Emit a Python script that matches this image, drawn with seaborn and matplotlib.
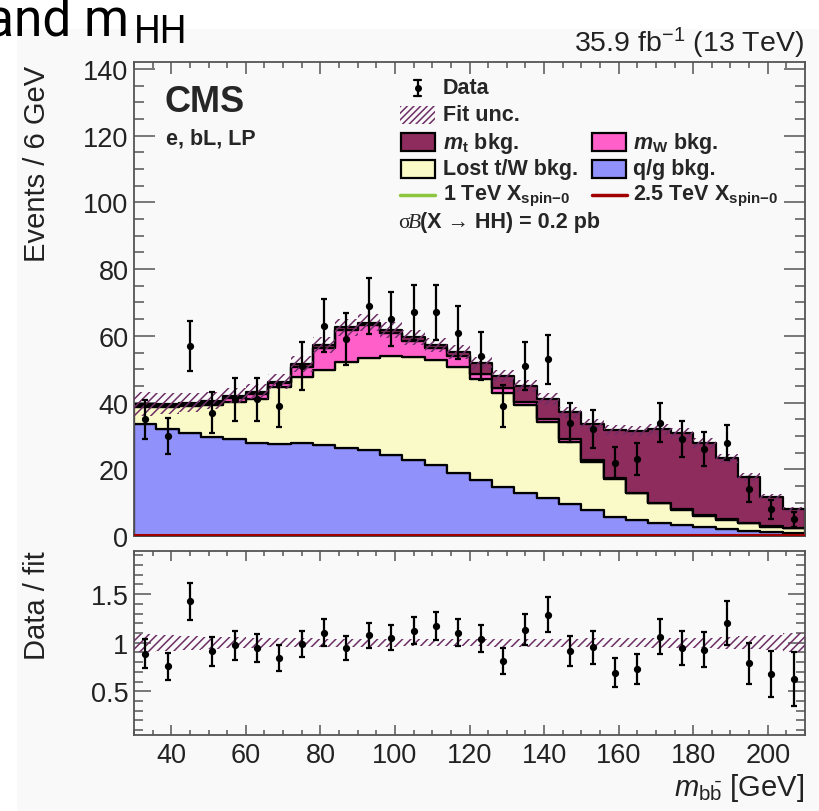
import numpy as np
import pandas as pd
import matplotlib
matplotlib.use("Agg")
import matplotlib.pyplot as plt
from matplotlib.patches import Rectangle
from matplotlib.lines import Line2D
from matplotlib.ticker import MultipleLocator
import seaborn as sns

# m_bb binning: 30 bins of 6 GeV from 30 to 210
bin_edges = np.arange(30, 211, 6)
bin_centers = (bin_edges[:-1] + bin_edges[1:]) / 2

# stacked fit components (events / bin)
qg_bkg = [33.6, 32.1, 30.8, 29.6, 29.1, 27.8, 27.5, 28.0, 27.3, 26.3,
          25.8, 24.3, 22.8, 21.3, 19.0, 16.7, 14.6, 12.8, 11.3, 9.6,
          7.8, 5.8, 4.8, 4.0, 3.3, 2.6, 2.0, 1.6, 1.3, 1.0]
lost_bkg = [5.0, 6.6, 8.1, 9.7, 11.2, 13.2, 17.3, 19.8, 22.5, 25.8,
            27.5, 29.7, 30.8, 31.5, 31.6, 30.3, 28.4, 26.5, 23.0, 18.7,
            14.5, 11.2, 8.0, 5.8, 4.5, 3.4, 2.8, 2.2, 1.5, 1.3]
mw_bkg = [0.4, 0.5, 0.5, 0.7, 1.0, 1.5, 1.0, 3.0, 6.6, 9.7,
          9.9, 7.0, 5.0, 3.5, 3.4, 1.5, 1.4, 1.0, 0.7, 0.7,
          0.4, 0.3, 0.2, 0.2, 0.2, 0.2, 0.2, 0.1, 0.1, 0.1]
mt_bkg = [0.5, 0.5, 0.6, 0.6, 0.8, 0.8, 0.5, 0.8, 0.8, 0.8,
          0.8, 0.8, 1.0, 1.0, 1.3, 3.3, 3.6, 4.7, 6.1, 8.1,
          10.9, 14.5, 18.6, 22.0, 22.8, 21.8, 18.3, 13.9, 8.9, 5.6]
fit_unc = [3.6, 3.2, 2.8, 2.5, 2.3, 2.2, 2.2, 2.3, 2.4, 2.5,
           2.5, 2.4, 2.3, 2.2, 2.1, 2.0, 1.9, 1.8, 1.7, 1.6,
           1.5, 1.5, 1.5, 1.6, 1.6, 1.5, 1.4, 1.2, 0.9, 0.8]

# signals (sigma*B = 0.2 pb), barely above zero here
sig_1tev = [0.15, 0.15, 0.15, 0.15, 0.15, 0.15, 0.15, 0.15, 0.15, 0.15,
            0.15, 0.15, 0.15, 0.15, 0.15, 0.15, 0.15, 0.15, 0.15, 0.15,
            0.15, 0.15, 0.15, 0.15, 0.15, 0.15, 0.15, 0.15, 0.15, 0.15]
sig_25tev = [0.3, 0.3, 0.3, 0.3, 0.3, 0.3, 0.3, 0.3, 0.3, 0.3,
             0.3, 0.3, 0.3, 0.3, 0.3, 0.3, 0.3, 0.3, 0.3, 0.3,
             0.3, 0.3, 0.3, 0.3, 0.3, 0.3, 0.3, 0.3, 0.3, 0.3]

# data
data = [35, 30, 57, 37, 41, 41, 39, 51, 63, 59,
        69, 65, 67, 67, 61, 54, 39, 51, 53, 34,
        32, 22, 23, 34, 29, 26, 28, 14, 8, 5]
data_err = [5.9, 5.5, 7.5, 6.1, 6.4, 6.4, 6.2, 7.1, 7.9, 7.7,
            8.3, 8.1, 8.2, 8.2, 7.8, 7.3, 6.2, 7.1, 7.3, 5.8,
            5.7, 4.7, 4.8, 5.8, 5.4, 5.1, 5.3, 3.7, 2.8, 2.2]

x_ticks = [40, 60, 80, 100, 120, 140, 160, 180, 200]
y_ticks = [0, 20, 40, 60, 80, 100, 120, 140]
ratio_ticks = [0.5, 1, 1.5]
ratio_labels = ["0.5", "1", "1.5"]

colors = {"mt": "#8f2c5e", "mw": "#ff5fc9", "lost": "#fafac8", "qg": "#9191fb"}
hatch_col = "#6e2f66"
bg = "#f9f9f9"

# long table for the seaborn stacked histogram
comp = {"mt": mt_bkg, "mw": mw_bkg, "lost": lost_bkg, "qg": qg_bkg}
df = pd.concat([pd.DataFrame({"mbb": bin_centers, "events": v, "comp": k})
                for k, v in comp.items()], ignore_index=True)

total = np.array(qg_bkg) + np.array(lost_bkg) + np.array(mw_bkg) + np.array(mt_bkg)
unc = np.array(fit_unc)
ratio = np.array(data) / total
ratio_err = np.array(data_err) / total

sns.set_style("ticks")
plt.rcParams["font.family"] = ["Liberation Sans", "DejaVu Sans"]
plt.rcParams["mathtext.fontset"] = "custom"
plt.rcParams["mathtext.rm"] = "Liberation Sans"
plt.rcParams["mathtext.it"] = "Liberation Sans:italic"
plt.rcParams["mathtext.bf"] = "Liberation Sans:bold"
plt.rcParams["mathtext.bfit"] = "Liberation Sans:italic:bold"
plt.rcParams["hatch.linewidth"] = 1.1

W, H = 820, 812
fig = plt.figure(figsize=(W / 100, H / 100), dpi=100, facecolor="white")


def fx(x):
    return x / W


def fy(y):
    return 1 - y / H


# light grey slide background
fig.add_artist(Rectangle((fx(17), 0), 1, fy(30), transform=fig.transFigure,
                         facecolor=bg, edgecolor="none", zorder=-10))

ax = fig.add_axes([fx(134), fy(537), fx(805) - fx(134), fy(63.3) - fy(537)])
axr = fig.add_axes([fx(134), fy(736), fx(805) - fx(134), fy(551.5) - fy(736)])

sns.histplot(data=df, x="mbb", weights="events", hue="comp",
             hue_order=["mt", "mw", "lost", "qg"], palette=colors,
             bins=bin_edges.tolist(), multiple="stack", element="step",
             edgecolor="black", linewidth=1.6, alpha=1, legend=False, ax=ax)

ax.fill_between(bin_edges, np.r_[total - unc, total[-1] - unc[-1]],
                np.r_[total + unc, total[-1] + unc[-1]], step="post",
                facecolor="none", edgecolor=hatch_col, hatch="////",
                linewidth=0, zorder=5)
ax.stairs(sig_1tev, bin_edges, color="#8cc63f", linewidth=2.2, zorder=6)
ax.stairs(sig_25tev, bin_edges, color="#a00000", linewidth=2.2, zorder=6)
ax.errorbar(bin_centers, data, yerr=data_err, fmt="o", color="black",
            markersize=4.2, elinewidth=1.6, capsize=2.5, capthick=1.6, zorder=7)

axr.fill_between(bin_edges, np.r_[1 - unc / total, 1 - unc[-1] / total[-1]],
                 np.r_[1 + unc / total, 1 + unc[-1] / total[-1]], step="post",
                 facecolor="none", edgecolor=hatch_col, hatch="////",
                 linewidth=0, zorder=5)
axr.errorbar(bin_centers, ratio, yerr=ratio_err, fmt="o", color="black",
             markersize=4.2, elinewidth=1.6, capsize=2.5, capthick=1.6, zorder=7)

for a in (ax, axr):
    a.set_facecolor(bg)
    a.set_xlim(30, 210)
    a.set_xlabel("")
    a.set_ylabel("")
    for s in a.spines.values():
        s.set_color("#555555")
        s.set_linewidth(1.3)
    a.xaxis.set_minor_locator(MultipleLocator(5))
    a.set_xticks(x_ticks)
    a.tick_params(which="both", direction="in", top=True, right=True,
                  color="#555555", width=1.1, labelsize=19.5, labelcolor="#222222")

ax.set_ylim(0, 142)
ax.set_yticks(y_ticks)
ax.yaxis.set_minor_locator(MultipleLocator(5))
ax.tick_params(axis="x", which="major", length=8.5, labelbottom=False)
ax.tick_params(axis="x", which="minor", length=4.5)
ax.tick_params(axis="y", which="major", length=15, pad=4)
ax.tick_params(axis="y", which="minor", length=7.5)

axr.set_ylim(0.05, 1.95)
axr.set_yticks(ratio_ticks, labels=ratio_labels)
axr.yaxis.set_minor_locator(MultipleLocator(0.1))
axr.tick_params(axis="x", which="major", length=7, pad=5)
axr.tick_params(axis="x", which="minor", length=3.5)
axr.tick_params(axis="y", which="major", length=12, pad=4)
axr.tick_params(axis="y", which="minor", length=6.5)

# axis titles (ROOT style, flush to the end of the axis)
fig.text(fx(37.5), fy(66), "Events / 6 GeV", rotation=90, ha="center",
         va="top", fontsize=21, color="#222222")
fig.text(fx(37.5), fy(551), "Data / fit", rotation=90, ha="center",
         va="top", fontsize=21, color="#222222")
fig.text(fx(804), fy(788), r"$m_{\mathrm{b\bar{b}}}$ [GeV]", ha="right",
         va="center", fontsize=21, color="#222222")
fig.text(fx(804), fy(52), r"35.9 fb$^{-1}$ (13 TeV)", ha="right",
         va="baseline", fontsize=20.5, color="#222222")

# slide title fragment, cut at the left edge as in the source
fig.text(fx(129), fy(35), "and m", ha="right", va="baseline", fontsize=37,
         family=["Roboto", "Liberation Sans"], color="black")
fig.text(fx(134), fy(42.7), "HH", ha="left", va="baseline", fontsize=27,
         family=["Roboto", "Liberation Sans"], color="black")

fig.text(fx(165), fy(112.5), "CMS", fontsize=26, fontweight="bold",
         va="baseline")
fig.text(fx(166), fy(145), "e, bL, LP", fontsize=15.5, fontweight="bold",
         va="baseline")

# legend, drawn by hand in pixel positions
lfs = 15.5
c1_box, c1_txt = 401, 443
c2_box, c2_txt = 592, 633
rows = [89, 116, 143, 169.5, 196]


def box(x0, yc, color):
    fig.add_artist(Rectangle((fx(x0), fy(yc + 9)), fx(34), 18 / H,
                             transform=fig.transFigure, facecolor=color,
                             edgecolor="black", linewidth=1.6, zorder=20))


def label(x0, yc, s):
    fig.text(fx(x0), fy(yc), s, fontsize=lfs, fontweight="bold", va="center",
             zorder=20)


# Data
fig.add_artist(Line2D([fx(418), fx(418)], [fy(rows[0] - 8), fy(rows[0] + 8)],
                      color="black", lw=1.6, transform=fig.transFigure))
for yy in (rows[0] - 8, rows[0] + 8):
    fig.add_artist(Line2D([fx(414.5), fx(421.5)], [fy(yy), fy(yy)],
                          color="black", lw=1.6, transform=fig.transFigure))
fig.add_artist(Line2D([fx(418)], [fy(rows[0])], marker="o", markersize=4,
                      color="black", transform=fig.transFigure))
label(c1_txt, rows[0], "Data")
fig.add_artist(Rectangle((fx(400), fy(rows[1] + 9)), fx(35), 18 / H,
                         transform=fig.transFigure, facecolor="none",
                         edgecolor=hatch_col, hatch="/////", linewidth=0))
label(c1_txt, rows[1], "Fit unc.")
box(c1_box, rows[2], colors["mt"])
label(c1_txt, rows[2], r"$\mathbfit{m}_{\mathbf{t}}$ bkg.")
box(c2_box, rows[2], colors["mw"])
label(c2_txt, rows[2], r"$\mathbfit{m}_{\mathbf{W}}$ bkg.")
box(c1_box, rows[3], colors["lost"])
label(c1_txt, rows[3], "Lost t/W bkg.")
box(c2_box, rows[3], colors["qg"])
label(c2_txt, rows[3], "q/g bkg.")
fig.add_artist(Line2D([fx(400), fx(435)], [fy(rows[4]), fy(rows[4])],
                      color="#8cc63f", lw=2.5, transform=fig.transFigure))
label(c1_txt, rows[4], r"1 TeV X$_{\mathbf{spin{-}0}}$")
fig.add_artist(Line2D([fx(592), fx(627)], [fy(rows[4]), fy(rows[4])],
                      color="#a00000", lw=2.5, transform=fig.transFigure))
label(c2_txt, rows[4], r"2.5 TeV X$_{\mathbf{spin{-}0}}$")
fig.text(fx(398), fy(228), "σ", fontsize=lfs, family="Liberation Serif",
         va="baseline")
fig.text(fx(408), fy(228), "B", fontsize=lfs, family="Liberation Serif",
         style="italic", va="baseline")
fig.text(fx(420), fy(228), "(X → HH) = 0.2 pb", fontsize=lfs,
         fontweight="bold", va="baseline")

fig.savefig("out.png", dpi=100, facecolor="white")
